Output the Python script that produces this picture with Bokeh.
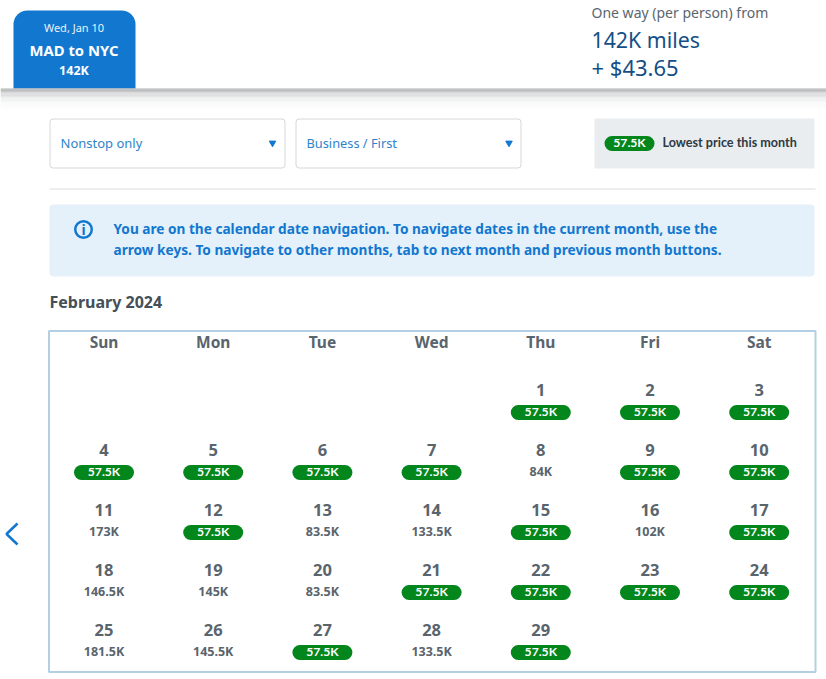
from bokeh.embed import file_html
from bokeh.models import Label
from bokeh.plotting import figure
from bokeh.resources import INLINE

weekdays = ["Sun", "Mon", "Tue", "Wed", "Thu", "Fri", "Sat"]
first_weekday = 4
days = list(range(1, 30))
prices = ["57.5K", "57.5K", "57.5K", "57.5K", "57.5K", "57.5K", "57.5K", "84K", "57.5K", "57.5K",
          "173K", "57.5K", "83.5K", "133.5K", "57.5K", "102K", "57.5K",
          "146.5K", "145K", "83.5K", "57.5K", "57.5K", "57.5K", "57.5K",
          "181.5K", "145.5K", "57.5K", "133.5K", "57.5K"]
lowest = "57.5K"
month = "February 2024"
notice = ["You are on the calendar date navigation. To navigate dates in the current month, use the",
          "arrow keys. To navigate to other months, tab to next month and previous month buttons."]

FONT = "Noto Sans"
BLUE = "#1277cf"
GREEN = "#03861c"
GREY = "#59646d"

# the axes are simply the reference's pixels
p = figure(width=826, height=679, x_range=(0, 826), y_range=(679, 0),
           output_backend="svg", toolbar_location=None, min_border=0,
           outline_line_color=None, background_fill_color="white", border_fill_color="white")
p.axis.visible = False
p.grid.visible = False


def text(x, y, s, size, color=GREY, style="normal", align="left", font=FONT):
    p.add_layout(Label(x=x, y=y - 1, text=s, text_font=font, text_font_size=f"{size}px", text_color=color,
                       text_font_style=style, text_align=align, text_baseline="middle"))


def box(l, r, t, b, fill, line=None, radius=0):
    p.quad(left=l, right=r, top=t, bottom=b, fill_color=fill, line_color=line, border_radius=radius)


def pill(x, y, w, s):
    box(x - w / 2, x + w / 2, y - 7.5, y + 7.5, GREEN, radius=8)
    text(x, y, s, 12.2, "white", "bold", "center", "Lato")


# top bar
box(13, 135, 10, 88, BLUE, radius=(14, 14, 0, 0))
text(73.5, 28, "Wed, Jan 10", 11, "#e8f2fb", align="center")
text(73.5, 50, "MAD to NYC", 14.8, "white", "bold", "center")
text(73.5, 71, "142K", 12.5, "white", "bold", "center")
text(591, 12.5, "One way (per person) from", 14, "#5b656e")
text(591, 39.5, "142K miles", 21.3, "#134f86")
text(591, 67.5, "+ $43.65", 22, "#134f86")
for i, c in enumerate(["#b0b2b3", "#bcbebf", "#c6c8c9", "#d0d1d2", "#d8d9da", "#dfe0e1", "#e5e6e7",
                       "#eaebec", "#eeefef", "#f2f3f3", "#f5f6f6", "#f8f8f8", "#fafafa", "#fbfbfb",
                       "#fcfcfc", "#fdfdfd"]):
    box(0, 826, 88 + i * 1.25, 89.25 + i * 1.25, c)

# filters
box(49.5, 284.5, 118.5, 167.5, "white", "#d4d7da", 3)
box(295.5, 520.5, 118.5, 167.5, "white", "#d4d7da", 3)
text(60, 143, "Nonstop only", 13, "#2f83c9")
text(306, 143, "Business / First", 12.8, "#2f83c9")
p.scatter(x=[272, 508.5], y=[142.5, 142.5], marker="inverted_triangle", size=6.5, color=BLUE)
box(594, 814, 118, 168, "#e9edef")
pill(629, 143, 50, lowest)
text(662, 143, "Lowest price this month", 12.6, "#2e3a44", "bold", font="Lato")
p.segment(x0=49, x1=815, y0=188.5, y1=188.5, line_color="#d8dcde", line_width=1)

# notice
box(49, 814, 204, 276, "#e4f0fa", radius=4)
p.scatter(x=[83], y=[229], marker="circle", size=16.5, fill_color="#e4f0fa", line_color=BLUE, line_width=2.5)
text(83, 229.5, "i", 14, BLUE, "bold", "center")
text(113, 229, notice[0], 13.65, BLUE, "bold")
text(113, 250, notice[1], 13.65, BLUE, "bold")

# calendar
text(49, 302, month, 16, "#444f58", "bold")
box(48.5, 815, 330.5, 671.5, "white", "#b3cfe3")
p.renderers[-1].glyph.line_width = 2
p.line(x=[17, 6, 17], y=[523, 533.5, 544], line_color=BLUE, line_width=2.5)

for col, name in enumerate(weekdays):
    text(103.5 + col * 109.2, 342, name, 15.5, GREY, "bold", "center")

for day, price in zip(days, prices):
    slot = day - 1 + first_weekday
    x = 103.5 + (slot % 7) * 109.2
    y = 390 + (slot // 7) * 60
    text(x, y, str(day), 16.5, GREY, "bold", "center")
    if price == lowest:
        pill(x, y + 22, 60, price)
    else:
        text(x, y + 22, price, 12.5, GREY, "bold", "center")

open("out.html", "w").write(file_html(p, INLINE))
